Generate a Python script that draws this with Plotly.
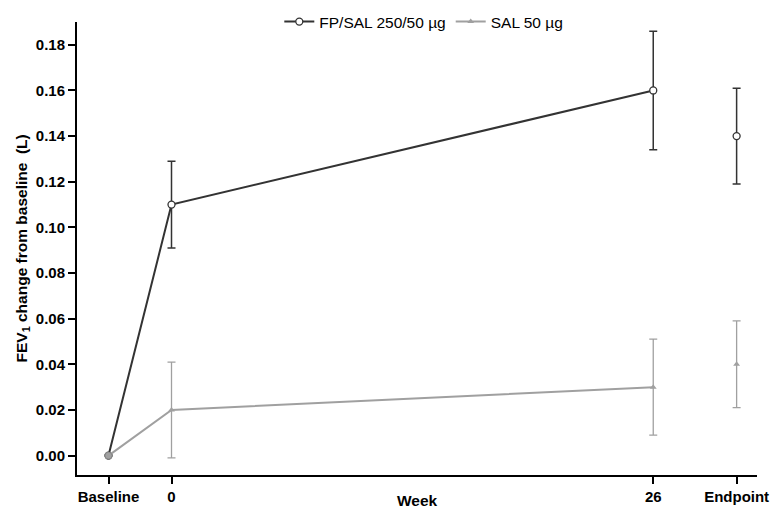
import plotly.graph_objects as go

# Data
tick_labels = ["Baseline", "0", "26", "Endpoint"]
x_pos = [-3.4, 0, 26, 30.5]          # week-axis position of each category
fp_vals = [0.0, 0.110, 0.160, 0.140]
fp_err = [0.0, 0.019, 0.026, 0.021]
sal_vals = [0.0, 0.020, 0.030, 0.040]
sal_err = [0.0, 0.021, 0.021, 0.019]

FP_COL = "#333333"
SAL_COL = "#a0a0a0"
FONT = "Liberation Sans, Arial, sans-serif"

fig = go.Figure()

# FP/SAL connected (Baseline, 0, 26)
fig.add_trace(go.Scatter(
    x=x_pos[:3], y=fp_vals[:3], mode="lines+markers",
    name="FP/SAL 250/50 \u00b5g",
    line=dict(color=FP_COL, width=2),
    marker=dict(symbol="circle", size=7, color="white", line=dict(color=FP_COL, width=1.3)),
    error_y=dict(type="data", array=fp_err[:3], color=FP_COL, thickness=1.5, width=4),
))
fig.add_trace(go.Scatter(
    x=x_pos[3:], y=fp_vals[3:], mode="markers", showlegend=False,
    marker=dict(symbol="circle", size=7, color="white", line=dict(color=FP_COL, width=1.3)),
    error_y=dict(type="data", array=fp_err[3:], color=FP_COL, thickness=1.5, width=4),
))

# SAL
fig.add_trace(go.Scatter(
    x=x_pos[:3], y=sal_vals[:3], mode="lines+markers",
    name="SAL 50 \u00b5g",
    line=dict(color=SAL_COL, width=2),
    marker=dict(symbol="triangle-up", size=6, color=SAL_COL),
    error_y=dict(type="data", array=sal_err[:3], color=SAL_COL, thickness=1.3, width=4),
))
fig.add_trace(go.Scatter(
    x=x_pos[3:], y=sal_vals[3:], mode="markers", showlegend=False,
    marker=dict(symbol="triangle-up", size=6, color=SAL_COL),
    error_y=dict(type="data", array=sal_err[3:], color=SAL_COL, thickness=1.3, width=4),
))
# shared baseline point (grey filled circle)
fig.add_trace(go.Scatter(
    x=x_pos[:1], y=sal_vals[:1], mode="markers", showlegend=False,
    marker=dict(symbol="circle", size=7, color=SAL_COL, line=dict(color="#888888", width=1)),
))

fig.update_layout(
    width=771, height=510,
    margin=dict(l=77, r=14, t=22, b=35, autoexpand=False),
    plot_bgcolor="white", paper_bgcolor="white",
    font=dict(family=FONT, color="black"),
    showlegend=True,
    legend=dict(orientation="h", x=0.51, xanchor="center", y=1.0, yanchor="middle",
                font=dict(size=15.5, family=FONT), bgcolor="rgba(0,0,0,0)", traceorder="normal"),
    xaxis=dict(
        range=[-5.1, 31.6], tickvals=x_pos, ticktext=tick_labels,
        showgrid=False, zeroline=False, showline=True, linecolor="black", linewidth=2,
        ticks="outside", ticklen=7, tickwidth=1.5, tickcolor="black",
        tickfont=dict(size=15, family=FONT, weight="bold"), automargin=False,
    ),
    yaxis=dict(
        range=[-0.0085, 0.190], tickvals=[0, 0.02, 0.04, 0.06, 0.08, 0.10, 0.12, 0.14, 0.16, 0.18],
        tickformat=".2f",
        showgrid=False, zeroline=False, showline=True, linecolor="black", linewidth=2,
        ticks="outside", ticklen=7, tickwidth=1.5, tickcolor="black",
        tickfont=dict(size=15, family=FONT, weight="bold"), automargin=False,
    ),
    annotations=[
        dict(text="<b>Week</b>", xref="paper", yref="paper", x=0.5, y=(475 - 500) / 453,
             xanchor="center", yanchor="middle", showarrow=False, font=dict(size=15.5, family=FONT)),
        dict(text="<b>FEV<sub>1</sub> change from baseline\u00a0\u00a0(L)</b>", xref="paper", yref="paper",
             x=(22 - 77) / 680, y=0.5, textangle=-90, xanchor="center", yanchor="middle",
             showarrow=False, font=dict(size=15.5, family=FONT)),
    ],
)

fig.write_html("out.html")
